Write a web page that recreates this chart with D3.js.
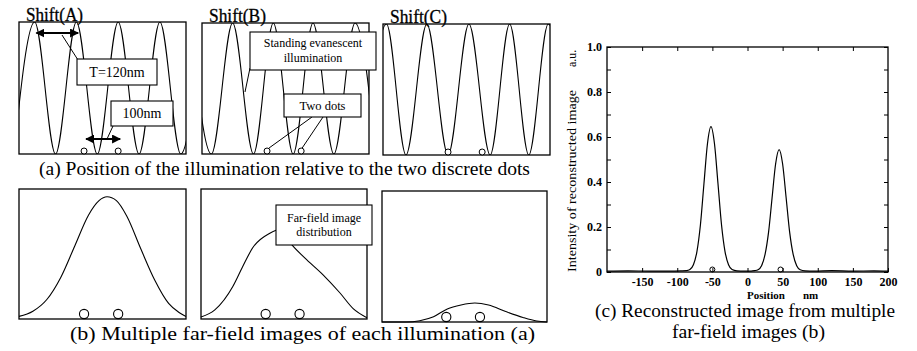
<!DOCTYPE html>
<html>
<head>
<meta charset="utf-8">
<script src="https://cdn.jsdelivr.net/npm/d3@7"></script>
<style>
  body { margin: 0; background: #fff; }
  svg { display: block; font-family: "Liberation Serif", "Times New Roman", serif; }
</style>
</head>
<body>
<script>
// --- data ---
var shiftNames = ["Shift(A)", "Shift(B)", "Shift(C)"];
// illumination maxima / minima (nm) for each shift
var peaksA = [45, 165, 285, 405, 525];
var troughsA = [-15, 105, 225, 345, 465];
var peaksB = [-33, 88, 205, 319, 440];
var troughsB = [27, 148, 262, 379, 500];
var peaksC = [10, 126, 247, 364, 475];
var troughsC = [-50, 66, 187, 308, 419, 535];
var dotPos = [187, 285];          // the two dots, nm
var periodArrow = [50, 170];      // T=120nm arrow, nm

// far-field images [nm, relative intensity]
var farA = [[0,0.02],[40,0.06],[80,0.15],[120,0.32],[160,0.56],[200,0.80],[230,0.91],[253,0.94],
            [280,0.91],[310,0.79],[350,0.54],[390,0.30],[430,0.12],[460,0.05],[480,0.02]];
var farB = [[0,0.015],[40,0.07],[92,0.25],[120,0.40],[150,0.55],[199,0.66],[230,0.69],[263,0.57],
            [300,0.47],[353,0.34],[402,0.20],[440,0.08],[480,0.01]];
var farC = [[0,0],[70,0],[110,0.01],[150,0.04],[190,0.10],[230,0.13],[270,0.145],[310,0.13],
            [360,0.08],[410,0.035],[450,0.008],[480,0]];

// reconstructed image
var recPos = [-200,-170,-140,-110,-95,-87,-82,-77,-72,-67,-62,-57,-52,-47,-42,-37,-32,-27,-22,
              -15,-5,5,10,15,20,25,30,35,40,45,50,55,60,65,70,75,82,95,120,150,180,200];
var recVal = [0.004,0.005,0.004,0.004,0.005,0.006,0.011,0.032,0.091,0.21,0.392,0.570,0.646,
              0.570,0.392,0.21,0.091,0.032,0.011,0.005,0.004,0.004,0.006,0.010,0.028,0.078,
              0.177,0.330,0.480,0.544,0.480,0.330,0.177,0.078,0.028,0.010,0.005,0.004,0.006,
              0.004,0.005,0.004];
var recDots = [-50, 47];
var yTicks = [0, 0.1, 0.2, 0.3, 0.4, 0.5, 0.6, 0.7, 0.8, 0.9, 1.0];
var xTicks = [-150, -100, -50, 0, 50, 100, 150, 200];
var xTopTicks = [-150, -100, -50, 0, 50, 100, 150];

var W = 917, H = 351;
var svg = d3.select("body").append("svg").attr("width", W).attr("height", H);
svg.append("rect").attr("width", W).attr("height", H).attr("fill", "#fff");

var defs = svg.append("defs");
defs.append("marker")
  .attr("id", "ah").attr("viewBox", "0 0 10 10")
  .attr("refX", 9).attr("refY", 5)
  .attr("markerWidth", 4.5).attr("markerHeight", 4.5)
  .attr("orient", "auto-start-reverse")
  .append("path").attr("d", "M0,0L10,5L0,10z").attr("fill", "#000");

var illum = [[peaksA, troughsA], [peaksB, troughsB], [peaksC, troughsC]];
var topPanels = [{x:19,y:22,w:167,h:132},{x:202,y:23,w:167,h:131},{x:383,y:24,w:167,h:131}];
var botPanels = [{x:19,y:189,w:167,h:130},{x:201,y:189,w:166,h:130},{x:382,y:191,w:165,h:131}];
var farData = [farA, farB, farC];

// --- (a) illumination panels ---
topPanels.forEach(function(p, i) {
  var x = d3.scaleLinear().domain([0, 480]).range([p.x, p.x + p.w]);
  var y = d3.scaleLinear().domain([0, 1]).range([p.y + p.h, p.y]);
  var pts = illum[i][0].map(function(d){ return [d, 1]; })
    .concat(illum[i][1].map(function(d){ return [d, 0]; }))
    .sort(function(a, b){ return a[0] - b[0]; });

  defs.append("clipPath").attr("id", "ct" + i)
    .append("rect").attr("x", p.x).attr("y", p.y).attr("width", p.w).attr("height", p.h);

  var g = svg.append("g");
  g.append("path").datum(pts)
    .attr("clip-path", "url(#ct" + i + ")")
    .attr("fill", "none").attr("stroke", "#000").attr("stroke-width", 1.1)
    .attr("d", d3.line().x(function(d){ return x(d[0]); }).y(function(d){ return y(d[1]); })
      .curve(d3.curveMonotoneX));
  g.append("rect").attr("x", p.x).attr("y", p.y).attr("width", p.w).attr("height", p.h)
    .attr("fill", "none").attr("stroke", "#000").attr("stroke-width", 1.3);
  g.append("text").attr("x", p.x + 7).attr("y", p.y - 1)
    .attr("font-size", 18).attr("textLength", 57).attr("lengthAdjust", "spacingAndGlyphs")
    .attr("stroke", "#000").attr("stroke-width", 0.3)
    .text(shiftNames[i]);
  g.selectAll("circle").data(dotPos).enter().append("circle")
    .attr("cx", function(d){ return x(d); }).attr("cy", p.y + p.h - 3).attr("r", 3)
    .attr("fill", "#fff").attr("stroke", "#000").attr("stroke-width", 1);
  p.x_ = x; p.y_ = y;
});

function box(x, y, w, h, lines, fs, lh) {
  svg.append("rect").attr("x", x).attr("y", y).attr("width", w).attr("height", h)
    .attr("fill", "#fff").attr("stroke", "#000").attr("stroke-width", 1.1);
  var t = svg.append("text").attr("text-anchor", "middle").attr("font-size", fs);
  var y0 = y + h / 2 - (lines.length - 1) * lh / 2 + fs * 0.33;
  lines.forEach(function(s, k) {
    t.append("tspan").attr("x", x + w / 2).attr("y", y0 + k * lh).text(s);
  });
}
function seg(x1, y1, x2, y2, arrow) {
  var l = svg.append("line").attr("x1", x1).attr("y1", y1).attr("x2", x2).attr("y2", y2)
    .attr("stroke", "#000").attr("stroke-width", arrow ? 2 : 1);
  if (arrow) l.attr("marker-start", "url(#ah)").attr("marker-end", "url(#ah)");
}

// callouts in panel A
var pA = topPanels[0];
seg(pA.x_(periodArrow[0]), 33, pA.x_(periodArrow[1]), 33, true);
seg(62, 35, 78, 60);
box(77, 59, 80, 26, ["T=120nm"], 14, 14);
seg(pA.x_(dotPos[0]) + 2, 139, pA.x_(dotPos[1]) + 2, 139, true);
seg(107, 139, 113, 126);
box(111, 101, 62, 25, ["100nm"], 14, 14);

// callouts in panel B
seg(250, 68, 245, 92);
box(250, 32, 126, 38, ["Standing evanescent", "illumination"], 12, 15);
var pB = topPanels[1];
seg(312, 117, pB.x_(dotPos[0]) + 2, 148);
seg(323, 117, pB.x_(dotPos[1]) + 1, 148);
box(284, 94, 77, 23, ["Two dots"], 12.5, 14);

// --- (b) far-field panels ---
botPanels.forEach(function(p, i) {
  var x = d3.scaleLinear().domain([0, 480]).range([p.x, p.x + p.w]);
  var y = d3.scaleLinear().domain([0, 1]).range([p.y + p.h, p.y]);
  var g = svg.append("g");
  g.append("path").datum(farData[i])
    .attr("fill", "none").attr("stroke", "#000").attr("stroke-width", 1.1)
    .attr("d", d3.line().x(function(d){ return x(d[0]); }).y(function(d){ return y(d[1]); })
      .curve(d3.curveMonotoneX));
  g.append("rect").attr("x", p.x).attr("y", p.y).attr("width", p.w).attr("height", p.h)
    .attr("fill", "none").attr("stroke", "#000").attr("stroke-width", 1.3);
  g.selectAll("circle").data(dotPos).enter().append("circle")
    .attr("cx", function(d){ return x(d); }).attr("cy", p.y + p.h - 5).attr("r", 4.6)
    .attr("fill", "#fff").attr("stroke", "#000").attr("stroke-width", 1.1);
});
box(276, 205, 96, 40, ["Far-field image", "distribution"], 12, 14);

// captions
svg.append("text").attr("x", 39).attr("y", 175).attr("font-size", 18)
  .attr("textLength", 491).attr("lengthAdjust", "spacingAndGlyphs")
  .text("(a) Position of the illumination relative to the two discrete dots");
svg.append("text").attr("x", 70).attr("y", 340).attr("font-size", 18)
  .attr("textLength", 465).attr("lengthAdjust", "spacingAndGlyphs")
  .text("(b) Multiple far-field images of each illumination (a)");

// --- (c) reconstructed image ---
var x = d3.scaleLinear().domain([-200, 200]).range([607, 888]);
var y = d3.scaleLinear().domain([0, 1]).range([272, 47]);
var rec = recPos.map(function(d, i){ return [d, recVal[i]]; });

svg.append("path").datum(rec)
  .attr("fill", "none").attr("stroke", "#000").attr("stroke-width", 1.2)
  .attr("d", d3.line().x(function(d){ return x(d[0]); }).y(function(d){ return y(d[1]); })
    .curve(d3.curveMonotoneX));
svg.selectAll(".rd").data(recDots).enter().append("circle")
  .attr("cx", function(d){ return x(d); }).attr("cy", y(0) - 2.5).attr("r", 2.5)
  .attr("fill", "none").attr("stroke", "#000").attr("stroke-width", 1);

function styleAxis(g) {
  g.select(".domain").remove();
  g.selectAll("line").attr("stroke", "#000").attr("stroke-width", 1);
  g.selectAll("text").attr("fill", "#000").attr("font-weight", "bold")
    .attr("font-size", 12).attr("font-family", "Liberation Serif, serif");
}
svg.append("g").attr("transform", "translate(607,0)")
  .call(d3.axisLeft(y).tickValues(yTicks).tickSize(-4).tickPadding(5)
    .tickFormat(function(d){
      var k = Math.round(d * 10);
      if (k % 2) return "";
      return k === 0 ? "0" : (k / 10).toFixed(1);
    }))
  .call(styleAxis);
svg.append("g").attr("transform", "translate(888,0)")
  .call(d3.axisRight(y).tickValues(yTicks).tickSize(-4).tickFormat(""))
  .call(styleAxis);
svg.append("g").attr("transform", "translate(0,47)")
  .call(d3.axisTop(x).tickValues(xTopTicks).tickSize(-4).tickFormat(""))
  .call(styleAxis);
svg.append("g").attr("transform", "translate(0,272)")
  .call(d3.axisBottom(x).tickValues(xTicks).tickSize(-4).tickPadding(5)
    .tickFormat(function(d){ return String(d); }))
  .call(styleAxis);
svg.append("rect").attr("x", 607).attr("y", 47).attr("width", 281).attr("height", 225)
  .attr("fill", "none").attr("stroke", "#000").attr("stroke-width", 1.3);

svg.append("text").attr("x", 747).attr("y", 299).attr("font-size", 11).attr("font-weight", "bold")
  .text("Position");
svg.append("text").attr("x", 803).attr("y", 299).attr("font-size", 11).attr("font-weight", "bold")
  .text("nm");
svg.append("text").attr("transform", "translate(576,272) rotate(-90)")
  .attr("font-size", 12).attr("textLength", 182).attr("lengthAdjust", "spacingAndGlyphs")
  .text("Intensity of reconstructed image");
svg.append("text").attr("transform", "translate(576,67) rotate(-90)")
  .attr("font-size", 12).text("a.u.");

svg.append("text").attr("x", 595).attr("y", 317).attr("font-size", 18)
  .attr("textLength", 300).attr("lengthAdjust", "spacingAndGlyphs")
  .text("(c) Reconstructed image from multiple");
svg.append("text").attr("x", 672).attr("y", 338).attr("font-size", 18)
  .attr("textLength", 153).attr("lengthAdjust", "spacingAndGlyphs")
  .text("far-field images (b)");
</script>
</body>
</html>
